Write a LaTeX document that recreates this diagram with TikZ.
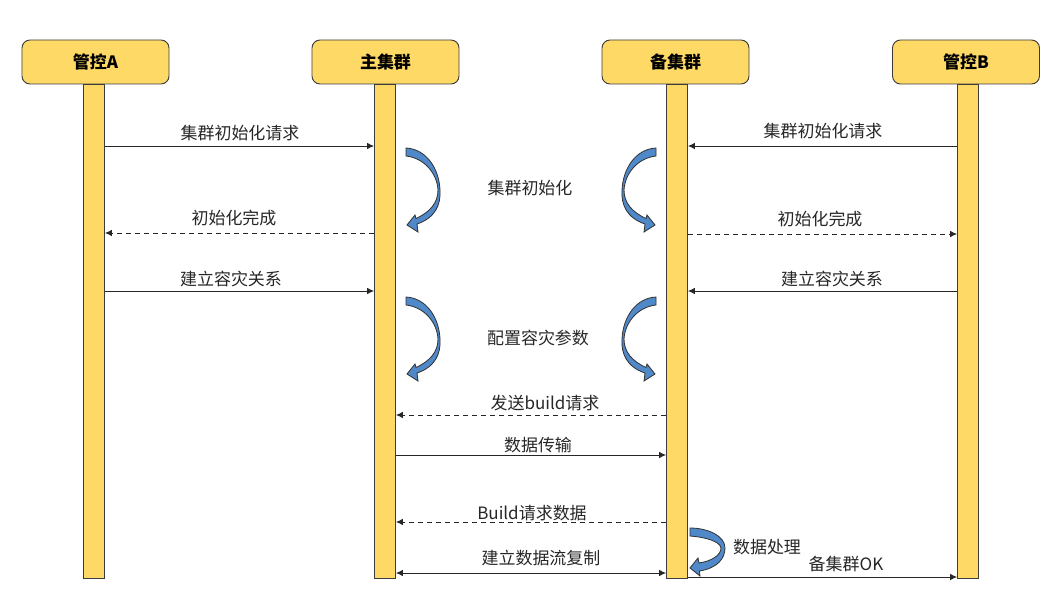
\documentclass[tikz,border=0pt]{standalone}
\usepackage{fontspec}
\setmainfont{Noto Sans CJK SC}
\usetikzlibrary{arrows.meta}
\definecolor{ylw}{RGB}{255,217,102}
\definecolor{blu}{RGB}{79,137,201}
\definecolor{edge}{RGB}{60,60,60}
\tikzset{
  hdr/.style={draw=edge, fill=ylw, rounded corners=2.4mm, minimum width=44.1mm, minimum height=13.2mm, inner sep=0pt, font=\bfseries\fontsize{14.5}{17}\selectfont, line width=0.8pt},
  lifebar/.style={draw=edge, fill=ylw, minimum width=6.3mm, minimum height=148.2mm, inner sep=0pt, line width=0.7pt},
  msg/.style={draw=black!85, line width=0.85pt, -{Latex[length=2.1mm,width=2mm]}},
  dmsg/.style={msg, dash pattern=on 1.5mm off 1.2mm},
  lbl/.style={font=\fontsize{14.5}{17}\selectfont, text=black!85, inner sep=0pt},
  carrow/.style={draw=black!80, fill=blu, line width=0.7pt},
  curv/.pic={
    \path[carrow] (0,0) -- (0,8)
      .. controls (18,10) and (31,25) .. (32,42)
      .. controls (32,55) and (24,64) .. (10,70.5)
      -- (9,67) -- (1,77) -- (12,84) -- (11,76)
      .. controls (29,70) and (35,57) .. (34,42)
      .. controls (33,20) and (20,1) .. (0,0) -- cycle;
  },
  smallcurv/.pic={
    \path[carrow] (0,0) -- (0,8)
      .. controls (14,9) and (30,13) .. (31,20)
      .. controls (31,27) and (22,33) .. (9,35)
      -- (8,30) -- (0,40) -- (10,48) -- (9.5,43)
      .. controls (28,40) and (35,30) .. (35,20)
      .. controls (35,8) and (18,0) .. (0,0) -- cycle;
  }
}
\begin{document}
\begin{tikzpicture}[x=0.3mm,y=-0.3mm]
\useasboundingbox (0,0) rectangle (1055,595);
% lifelines
\node[lifebar] (bA) at (94,331) {};
\node[lifebar] (bM) at (385,331) {};
\node[lifebar] (bS) at (677,331) {};
\node[lifebar] (bB) at (968,331) {};
% headers
\node[hdr] (hA) at (95.5,62) {管控A};
\node[hdr] (hM) at (385.5,62) {主集群};
\node[hdr] (hS) at (675.5,62) {备集群};
\node[hdr] (hB) at (966,62) {管控B};
% messages
\draw[msg] (bA.east |- 0,146) -- (bM.west |- 0,146);
\draw[msg] (bB.west |- 0,146) -- (bS.east |- 0,146);
\draw[dmsg] (bM.west |- 0,233) -- (bA.east |- 0,233);
\draw[dmsg] (bS.east |- 0,234) -- (bB.west |- 0,234);
\draw[msg] (bA.east |- 0,291) -- (bM.west |- 0,291);
\draw[msg] (bB.west |- 0,291) -- (bS.east |- 0,291);
\draw[dmsg] (bS.west |- 0,415) -- (bM.east |- 0,415);
\draw[msg] (bM.east |- 0,455) -- (bS.west |- 0,455);
\draw[dmsg] (bS.west |- 0,522) -- (bM.east |- 0,522);
\draw[msg, {Latex[length=2.1mm,width=2mm]}-{Latex[length=2.1mm,width=2mm]}] (bM.east |- 0,573) -- (bS.west |- 0,573);
\draw[msg] (bS.east |- 0,577) -- (bB.west |- 0,577);
% labels
\node[lbl] (l1) at (240,133) {集群初始化请求};
\node[lbl] (l2) at (823,131) {集群初始化请求};
\node[lbl] (l3) at (234,218) {初始化完成};
\node[lbl] (l4) at (820,219) {初始化完成};
\node[lbl] (l5) at (231,279) {建立容灾关系};
\node[lbl] (l6) at (832,279) {建立容灾关系};
\node[lbl] (l7) at (530,188) {集群初始化};
\node[lbl] (l8) at (538,338) {配置容灾参数};
\node[lbl] (l9) at (545,403) {发送build请求};
\node[lbl] (l10) at (538,445) {数据传输};
\node[lbl] (l11) at (532,513) {Build请求数据};
\node[lbl] (l12) at (541,558) {建立数据流复制};
\node[lbl] (l13) at (767,547) {数据处理};
\node[lbl] (l14) at (846,564) {备集群OK};
% curved arrows
\pic at (406,148) {curv};
\pic[xscale=-1] at (656,148) {curv};
\pic at (406,297) {curv};
\pic[xscale=-1] at (656,297) {curv};
\pic at (690,528) {smallcurv};
\end{tikzpicture}
\end{document}
